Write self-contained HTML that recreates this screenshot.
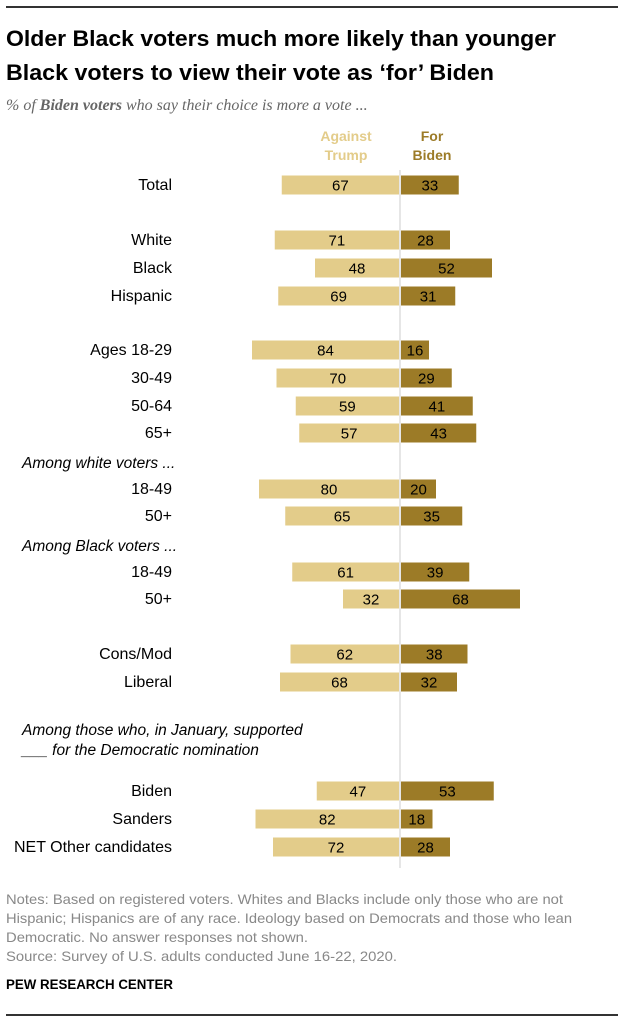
<!DOCTYPE html>
<html><head><meta charset="utf-8">
<style>
body{margin:0;background:#fff;width:625px;height:1024px;overflow:hidden;font-family:"Liberation Sans",Arial,sans-serif;}
svg{display:block}
</style></head>
<body>
<svg id="chart" width="625" height="1024" xmlns="http://www.w3.org/2000/svg">
<line x1="6" y1="7" x2="618" y2="7" stroke="#333" stroke-width="2"/>
<text x="6" y="46" font-size="22.5" font-weight="bold" fill="#000" textLength="550" lengthAdjust="spacingAndGlyphs">Older Black voters much more likely than younger</text>
<text x="6" y="80" font-size="22.5" font-weight="bold" fill="#000" textLength="488" lengthAdjust="spacingAndGlyphs">Black voters to view their vote as ‘for’ Biden</text>
<text x="6" y="110" font-size="16" font-style="italic" fill="#666" font-family="Liberation Serif,serif">% of <tspan font-weight="bold">Biden voters</tspan> who say their choice is more a vote ...</text>
<text x="346" y="141" text-anchor="middle" font-size="14" font-weight="bold" fill="#e3cc8a"><tspan x="346">Against</tspan><tspan x="346" dy="19">Trump</tspan></text>
<text x="432" y="141" text-anchor="middle" font-size="14" font-weight="bold" fill="#9c7b27"><tspan x="432">For</tspan><tspan x="432" dy="19">Biden</tspan></text>
<line x1="400" y1="170" x2="400" y2="868" stroke="#ccc" stroke-width="1"/>
<g id="bars"></g>
<g font-size="14" fill="#888" lengthAdjust="spacingAndGlyphs">
<text x="6" y="904" textLength="557" lengthAdjust="spacingAndGlyphs">Notes: Based on registered voters. Whites and Blacks include only those who are not</text>
<text x="6" y="923" textLength="566" lengthAdjust="spacingAndGlyphs">Hispanic; Hispanics are of any race. Ideology based on Democrats and those who lean</text>
<text x="6" y="942" textLength="302" lengthAdjust="spacingAndGlyphs">Democratic. No answer responses not shown.</text>
<text x="6" y="961" textLength="391" lengthAdjust="spacingAndGlyphs">Source: Survey of U.S. adults conducted June 16-22, 2020.</text>
</g>
<text x="6" y="989" font-size="13.5" font-weight="bold" fill="#000" textLength="167" lengthAdjust="spacingAndGlyphs">PEW RESEARCH CENTER</text>
<line x1="6" y1="1015" x2="618" y2="1015" stroke="#333" stroke-width="2"/>
</svg>
<script>
const categories=["Total","White","Black","Hispanic","Ages 18-29","30-49","50-64","65+","18-49","50+","18-49","50+","Cons/Mod","Liberal","Biden","Sanders","NET Other candidates"];
const againstTrump=[67,71,48,69,84,70,59,57,80,65,61,32,62,68,47,82,72];
const forBiden=[33,28,52,31,16,29,41,43,20,35,39,68,38,32,53,18,28];
const rowY=[185,240,268,296,350,378,406,433,489,516,572,599,654,682,791,819,847];
const groupLabels=["Among white voters ...","Among Black voters ...","Among those who, in January, supported","___ for the Democratic nomination"];
const groupY=[468,551,735,755];
const svgNS="http://www.w3.org/2000/svg";
const g=document.getElementById('bars');
const cx=400, scale=1.75, bh=19;
function xL(v){return cx-1-v*scale;}
function mk(tag,attrs){const e=document.createElementNS(svgNS,tag);for(const k in attrs)e.setAttribute(k,attrs[k]);return e;}
categories.forEach((c,i)=>{
  const y=rowY[i];
  const lab=mk('text',{x:172,y:y+5,'text-anchor':'end','font-size':16,fill:'#000'});
  
  
  lab.textContent=c;g.appendChild(lab);
  const a=againstTrump[i],f=forBiden[i];
  const r1=mk('rect',{x:xL(a),y:y-bh/2,width:a*scale,height:bh,fill:'#e3cc8a'});
  
  
  g.appendChild(r1);
  const r2=mk('rect',{x:cx+1,y:y-bh/2,width:f*scale,height:bh,fill:'#9c7b27'});
  
  
  g.appendChild(r2);
  const t1=mk('text',{x:(xL(a)+cx-1)/2,y:y+5.5,'text-anchor':'middle','font-size':15,fill:'#000'});
  
  
  t1.textContent=a;g.appendChild(t1);
  const t2=mk('text',{x:cx+1+Math.max(f*scale,28)/2,y:y+5.5,'text-anchor':'middle','font-size':15,fill:'#000'});
  
  
  t2.textContent=f;g.appendChild(t2);
});
groupLabels.forEach((s,i)=>{
  const t=mk('text',{x:22,y:groupY[i],'font-size':15.5,'font-style':'italic',fill:'#000'});
  
  
  t.textContent=s;g.appendChild(t);
});
</script>
</body></html>
